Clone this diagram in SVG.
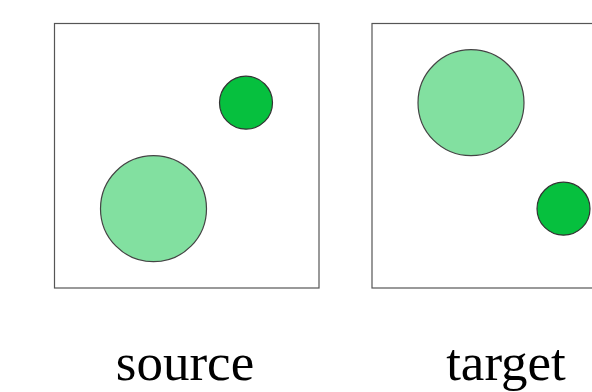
<svg xmlns="http://www.w3.org/2000/svg" width="592" height="392" viewBox="0 0 592 392">
<style>
.frame{fill:#ffffff;stroke:#555555;stroke-width:1.2}
.big{fill:#82e0a0;stroke:#444444;stroke-width:1.2}
.small{fill:#06c03e;stroke:#333333;stroke-width:1.2}
.lbl{font-family:"Liberation Serif","Times New Roman",serif;font-size:53px;fill:#000000;text-anchor:middle}
</style>
<rect width="592" height="392" fill="#ffffff"/>
<g id="source">
<rect class="frame" x="54.5" y="23.5" width="264.5" height="264.5"/>
<circle class="small" cx="246" cy="102.7" r="26.5"/>
<circle class="big" cx="153.5" cy="208.7" r="53"/>
<text class="lbl" x="185" y="380">source</text>
</g>
<g id="target">
<rect class="frame" x="372" y="23.5" width="264.5" height="264.5"/>
<circle class="big" cx="471" cy="102.7" r="53"/>
<circle class="small" cx="563.5" cy="208.7" r="26.5"/>
<text class="lbl" x="506" y="380">target</text>
</g>
<g id="connectors"/>
</svg>
